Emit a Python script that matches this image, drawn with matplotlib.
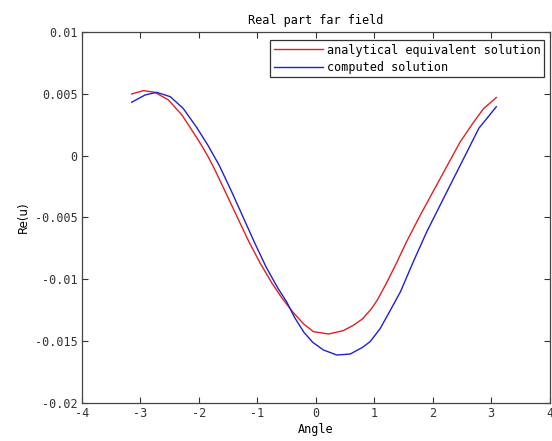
import matplotlib
matplotlib.use("Agg")
import matplotlib.pyplot as plt

# values
angle_red = [-3.15, -2.95, -2.75, -2.52, -2.29, -2.07, -1.95, -1.84, -1.72, -1.55,
             -1.35, -1.15, -0.95, -0.75, -0.58, -0.40, -0.21, -0.04, 0.22, 0.47,
             0.65, 0.80, 0.95, 1.05, 1.20, 1.38, 1.56, 1.79, 2.02, 2.25, 2.47,
             2.70, 2.87, 3.09]
re_red = [0.00499, 0.00526, 0.00512, 0.0045, 0.00329, 0.0017, 0.0008, -0.0001,
          -0.0012, -0.0029, -0.0049, -0.0069, -0.0087, -0.0103, -0.0115,
          -0.0126, -0.0136, -0.01423, -0.01442, -0.01415, -0.0137, -0.0132,
          -0.0124, -0.0117, -0.0104, -0.0087, -0.0069, -0.0048, -0.0028, -0.0008,
          0.0011, 0.0027, 0.0038, 0.0047]

angle_blue = [-3.15, -2.92, -2.72, -2.49, -2.27, -2.04, -1.84, -1.65, -1.45, -1.25,
              -1.05, -0.85, -0.65, -0.50, -0.36, -0.20, -0.05, 0.13, 0.36, 0.59,
              0.80, 0.93, 1.10, 1.23, 1.45, 1.67, 1.90, 2.13, 2.36, 2.59,
              2.79, 2.93, 3.09]
re_blue = [0.00432, 0.00491, 0.00512, 0.00477, 0.00383, 0.0023, 0.0008, -0.0008,
           -0.0028, -0.0049, -0.0070, -0.0090, -0.0107, -0.0118, -0.0131,
           -0.0143, -0.0151, -0.01571, -0.01612, -0.01604, -0.0155, -0.01504,
           -0.0140, -0.0129, -0.0110, -0.00857, -0.00615, -0.00399, -0.00183,
           0.00032, 0.00221, 0.00302, 0.00396]

xticks = [-4, -3, -2, -1, 0, 1, 2, 3, 4]
yticks = [-0.02, -0.015, -0.01, -0.005, 0, 0.005, 0.01]
ytick_labels = ["-0.02", "-0.015", "-0.01", "-0.005", "0", "0.005", "0.01"]

plt.rcParams["font.family"] = "DejaVu Sans Mono"
plt.rcParams["font.size"] = 8.5

fig = plt.figure(figsize=(5.52, 4.41), dpi=100)
ax = fig.add_axes([82 / 552, 38 / 441, 467.5 / 552, 371 / 441])

ax.plot(angle_red, re_red, color="#e02020", lw=1.0, label="analytical equivalent solution")
ax.plot(angle_blue, re_blue, color="#2020d0", lw=1.0, label="computed solution")

ax.set_xlim(-4, 4)
ax.set_ylim(-0.02, 0.01)
ax.set_xticks(xticks)
ax.set_xticklabels([str(t) for t in xticks])
ax.set_yticks(yticks)
ax.set_yticklabels(ytick_labels)
ax.tick_params(direction="in", top=True, right=True, length=4, width=0.8,
               labelsize=8.5, colors="#333333", pad=3)
for sp in ax.spines.values():
    sp.set_color("#444444")
    sp.set_linewidth(0.9)

ax.set_title("Real part far field", fontsize=8.5, pad=6)
ax.set_xlabel("Angle", fontsize=8.5, labelpad=2)
ax.set_ylabel("Re(u)", fontsize=8.5, family="DejaVu Sans", labelpad=4)

leg = ax.legend(loc="upper right", bbox_to_anchor=(1 - 5.5 / 467.5, 1 - 8 / 371),
                borderaxespad=0, fancybox=False, frameon=True, handlelength=4.2,
                handletextpad=0.3, labelspacing=0.35, borderpad=0.3, fontsize=8.5)
leg.get_frame().set_edgecolor("black")
leg.get_frame().set_linewidth(0.9)

fig.savefig("out.png", dpi=100)
